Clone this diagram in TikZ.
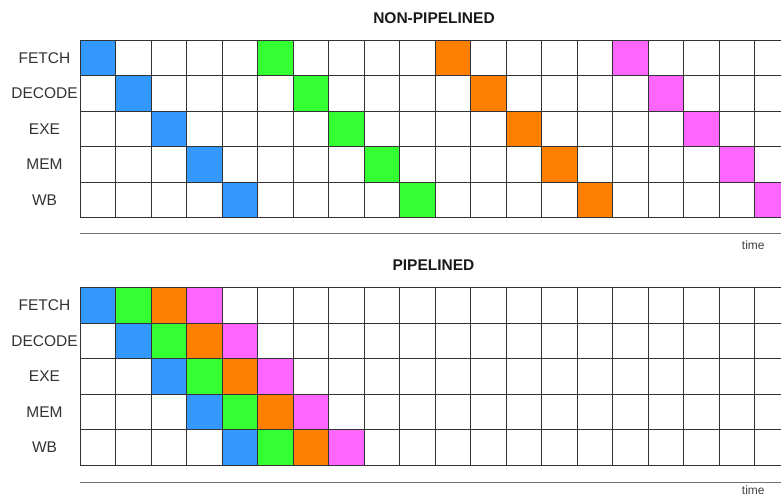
\documentclass[tikz,border=0pt]{standalone}
\usepackage{fontspec}
\setmainfont{Liberation Sans}
\usetikzlibrary{positioning}
\definecolor{ph0}{HTML}{3399FF}
\definecolor{ph1}{HTML}{33FF33}
\definecolor{ph2}{HTML}{FF8000}
\definecolor{ph3}{HTML}{FF66FF}
\colorlet{ph4}{white}

\begin{document}
\begin{tikzpicture}[
  x=1pt, y=-1pt,
  font=\fontsize{15.5}{18}\selectfont,
  cell/.style={draw=black!80, line width=0.9pt, minimum size=35.5pt,
               inner sep=0pt, outer sep=0pt},
  stg/.style={text=black!80, inner sep=1pt},
  ttl/.style={font=\bfseries\fontsize{15.5}{18}\selectfont, text=black!90},
  axis/.style={draw=black!55, line width=1pt},
  tlbl/.style={font=\fontsize{12}{14}\selectfont, text=black!75, inner sep=1pt}
]
\useasboundingbox (0,0) rectangle (781,497);
\clip (0,0) rectangle (781,497);
% ---------------- non-pipelined ----------------
\node[ttl] (np-title) at (434,18) {NON-PIPELINED};
\foreach \name/\r in {FETCH/0, DECODE/1, EXE/2, MEM/3, WB/4}
  \node[stg] (np-\r) at (44.5,{40+35.5*(\r+0.5)}) {\name};
\foreach \r in {0,...,4}
  \foreach \c in {0,...,19} {
    \pgfmathtruncatemacro\k{ifthenelse(mod(\c,5)==\r, floor(\c/5), 4)}
    \node[cell, fill=ph\k] (np-\r-\c) at ({80+35.5*(\c+0.5)},{40+35.5*(\r+0.5)}) {};
  }
\coordinate (np-t0) at (80,233.5);
\coordinate (np-t1) at (781,233.5);
\draw[axis] (np-t0) -- (np-t1);
\node[tlbl] (np-time) at (753.3,245) {time};
% ---------------- pipelined ----------------
\node[ttl] (p-title) at (433.5,265.5) {PIPELINED};
\foreach \name/\r in {FETCH/0, DECODE/1, EXE/2, MEM/3, WB/4}
  \node[stg] (p-\r) at (44.5,{287.7+35.5*(\r+0.5)}) {\name};
\foreach \r in {0,...,4}
  \foreach \c in {0,...,19} {
    \pgfmathtruncatemacro\k{ifthenelse(and(\c-\r>=0, \c-\r<=3), \c-\r, 4)}
    \node[cell, fill=ph\k] (p-\r-\c) at ({80+35.5*(\c+0.5)},{287.7+35.5*(\r+0.5)}) {};
  }
\coordinate (p-t0) at (80,482.5);
\coordinate (p-t1) at (781,482.5);
\draw[axis] (p-t0) -- (p-t1);
\node[tlbl] (p-time) at (753.3,490.5) {time};
\end{tikzpicture}
\end{document}
